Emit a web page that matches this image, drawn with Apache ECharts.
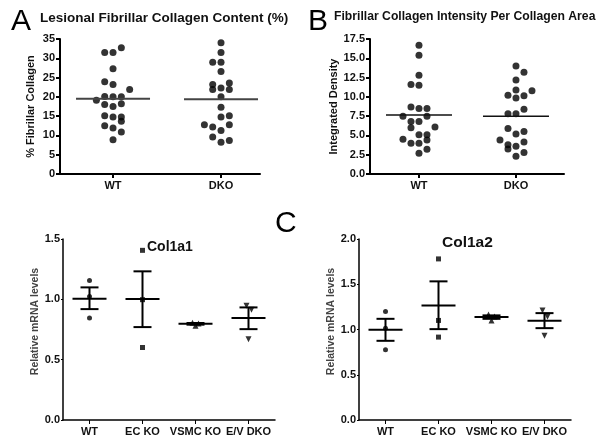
<!DOCTYPE html>
<html><head><meta charset="utf-8">
<script src="https://cdn.jsdelivr.net/npm/echarts@6/dist/echarts.min.js"></script>
<style>html,body{margin:0;background:#fff}#c{width:600px;height:444px}</style>
</head><body><div id="c"></div>
<script>
// --- A: lesional fibrillar collagen content (%) ---
const aGroups = ['WT', 'DKO'];
const aWT = [31.5, 31.5, 32.7, 27.3, 23.9, 23.2, 21.9, 19.1, 20.1, 20.0, 20.0, 18.0, 17.5, 18.2, 15.1, 14.8, 14.8, 13.7, 12.5, 11.9, 10.9, 8.9];
const aWTcol = [-1, 0, 1, 0, -1, 0, 2, -2, -1, 0, 1, -1, 0, 1, -1, 0, 1, 1, -1, 0, 1, 0];
const aDKO = [34.0, 31.5, 29.0, 29.0, 26.6, 23.2, 23.6, 21.9, 22.3, 21.9, 20.0, 17.3, 14.8, 15.1, 12.8, 12.2, 12.8, 11.3, 9.6, 8.2, 8.7];
const aDKOcol = [0, 0, -1, 0, 0, -1, 1, -1, 0, 1, 0, 0, 0, 1, -2, -1, 1, 0, -1, 0, 1];
const aMeans = [19.5, 19.4];

// --- B: intensity per collagen area ---
const bWT = [16.7, 15.4, 12.8, 11.6, 11.5, 8.7, 8.5, 8.5, 7.5, 7.5, 6.8, 6.8, 6.0, 6.1, 5.1, 5.1, 4.5, 4.0, 4.0, 4.4, 2.7, 3.2];
const bWTcol = [0, 0, 0, -1, 0, -1, 0, 1, -2, 1, -1, 0, -1, 2, 0, 1, -2, -1, 0, 1, 0, 1];
const bDKO = [14.0, 13.2, 12.2, 10.9, 10.8, 10.2, 9.85, 10.15, 8.4, 7.8, 7.8, 5.9, 5.5, 5.2, 4.4, 3.8, 4.15, 3.6, 3.25, 2.3, 2.8];
const bDKOcol = [0, 1, 0, 0, 2, -1, 0, 1, 1, -1, 0, -1, 1, 0, -2, -1, 1, 0, -1, 0, 1];
const bMeans = [7.65, 7.5];

// --- C: relative mRNA levels ---
const cGroups = ['WT', 'EC KO', 'VSMC KO', 'E/V DKO'];
const col1a1Pts = [[1.157, 1.024, 0.845], [1.406, 0.997, 0.601], [0.805, 0.800, 0.782], [0.947, 0.914, 0.670]];
const col1a1Mean = [1.005, 1.002, 0.797, 0.845];
const col1a1Lo = [0.919, 0.770, 0.790, 0.753];
const col1a1Hi = [1.099, 1.232, 0.804, 0.933];
const col1a2Pts = [[1.199, 1.015, 0.775], [1.78, 1.10, 0.916], [1.165, 1.145, 1.10], [1.21, 1.14, 0.93]];
const col1a2Mean = [0.997, 1.266, 1.137, 1.096];
const col1a2Lo = [0.875, 1.004, 1.118, 1.015];
const col1a2Hi = [1.118, 1.532, 1.156, 1.181];
const ptShift = [[0, 0, 0], [0, 0, 0], [-3, 3, 0], [-2, 3, 0]];

const F = 'Liberation Sans, Arial, sans-serif';
const INK = '#111';

const topAxisY = (max, itv, name, gap, fmt) => ({
  type: 'value', min: 0, max, interval: itv,
  name, nameLocation: 'middle', nameGap: gap,
  nameTextStyle: { fontFamily: F, fontWeight: 'bold', fontSize: 11, color: INK },
  axisLine: { show: true, lineStyle: { color: '#000', width: 2 } },
  axisTick: { show: true, length: 4, lineStyle: { color: '#000', width: 2 } },
  axisLabel: { fontFamily: F, fontWeight: 'bold', fontSize: 11, color: INK, margin: 5, formatter: fmt },
  splitLine: { show: false },
});
const topAxisX = (min, max) => ({
  type: 'value', min, max,
  axisLine: { show: true, onZero: false, lineStyle: { color: '#000', width: 2 } },
  axisTick: { show: true, length: 4, customValues: [1, 2], lineStyle: { color: '#000', width: 2 } },
  axisLabel: { customValues: [1, 2], fontFamily: F, fontWeight: 'bold', fontSize: 11, color: INK, margin: 6,
    formatter: (v) => aGroups[Math.round(v) - 1] || '' },
  splitLine: { show: false },
});
const botAxisY = (max, gap) => ({
  type: 'value', min: 0, max, interval: 0.5,
  name: 'Relative mRNA levels', nameLocation: 'middle', nameGap: gap,
  nameTextStyle: { fontFamily: F, fontWeight: 'bold', fontSize: 10.5, color: '#444', padding: [0, 0, 0, 16] },
  axisLine: { show: true, lineStyle: { color: '#000', width: 1.5 } },
  axisTick: { show: true, length: 2, lineStyle: { color: '#000' } },
  axisLabel: { fontFamily: F, fontWeight: 'bold', fontSize: 11, color: INK, margin: 3, formatter: (v) => v.toFixed(1) },
  splitLine: { show: false },
});
const botAxisX = () => ({
  type: 'category', data: cGroups,
  axisLine: { show: true, lineStyle: { color: '#000', width: 1.5 } },
  axisTick: { show: true, alignWithLabel: true, length: 4, lineStyle: { color: '#000' } },
  axisLabel: { fontFamily: F, fontWeight: 'bold', fontSize: 11, color: INK, margin: 6, interval: 0 },
});

const dots = (vals, cols, cat, dx, ax) => ({
  type: 'scatter', xAxisIndex: ax, yAxisIndex: ax, symbolSize: 7, itemStyle: { color: '#000' },
  data: vals.map((v, i) => [cat + cols[i] * dx, v]), z: 3,
});
const meanLine = (means, ax, half, color, lw) => ({
  type: 'custom', xAxisIndex: ax, yAxisIndex: ax, z: 4,
  data: means.map((m, i) => [i + 1, m]),
  renderItem: (p, api) => {
    const c = api.coord([api.value(0), api.value(1)]);
    return { type: 'line', shape: { x1: c[0] - half, y1: c[1], x2: c[0] + half, y2: c[1] }, style: { stroke: color, lineWidth: lw } };
  },
});
const errBars = (mean, lo, hi, ax) => ({
  type: 'custom', xAxisIndex: ax, yAxisIndex: ax, z: 4,
  data: mean.map((m, i) => [i, m, lo[i], hi[i]]),
  renderItem: (p, api) => {
    const m = api.coord([api.value(0), api.value(1)]);
    const l = api.coord([api.value(0), api.value(2)]);
    const h = api.coord([api.value(0), api.value(3)]);
    const st = { stroke: '#000', lineWidth: 2 };
    return { type: 'group', children: [
      { type: 'line', shape: { x1: m[0], y1: l[1], x2: m[0], y2: h[1] }, style: st },
      { type: 'line', shape: { x1: m[0] - 9, y1: l[1], x2: m[0] + 9, y2: l[1] }, style: st },
      { type: 'line', shape: { x1: m[0] - 9, y1: h[1], x2: m[0] + 9, y2: h[1] }, style: st },
      { type: 'line', shape: { x1: m[0] - 17, y1: m[1], x2: m[0] + 17, y2: m[1] }, style: st },
    ] };
  },
});
const SYM = [['circle', 5, 0], ['rect', 5, 0], ['triangle', 6, 0], ['triangle', 6, 180]];
const points = (pts, ax) => pts.map((grp, gi) => ({
  type: 'scatter', xAxisIndex: ax, yAxisIndex: ax, z: 5,
  symbol: SYM[gi][0], symbolSize: SYM[gi][1], symbolRotate: SYM[gi][2], itemStyle: { color: '#000' },
  data: grp.map((v, k) => ({ value: [gi, v], symbolOffset: [ptShift[gi][k], 0] })),
}));

const label = (text, left, top, size, weight) => ({
  text, left, top, padding: 0,
  textStyle: { fontFamily: F, fontWeight: weight, fontSize: size, color: weight === 'bold' ? INK : '#000' },
});

const chart = echarts.init(document.getElementById('c'));
chart.setOption({
  animation: false,
  title: [
    label('A', 11, 7, 30, 'normal'),
    label('Lesional Fibrillar Collagen Content (%)', 40, 11, 13.5, 'bold'),
    label('B', 308, 7, 30, 'normal'),
    label('Fibrillar Collagen Intensity Per Collagen Area', 334, 11, 12.2, 'bold'),
    label('C', 275, 209, 30, 'normal'),
    label('Col1a1', 147, 240, 14, 'bold'),
    label('Col1a2', 442, 235, 15.5, 'bold'),
  ],
  grid: [
    { left: 60, top: 39, width: 200, height: 135 },
    { left: 370, top: 39, width: 194, height: 135 },
    { left: 63, top: 239, width: 212, height: 181 },
    { left: 359, top: 239, width: 212, height: 181 },
  ],
  xAxis: [
    Object.assign(topAxisX(0.509, 2.361), { gridIndex: 0 }),
    Object.assign(topAxisX(0.495, 2.495), { gridIndex: 1 }),
    Object.assign(botAxisX(), { gridIndex: 2 }),
    Object.assign(botAxisX(), { gridIndex: 3 }),
  ],
  yAxis: [
    Object.assign(topAxisY(35, 5, '% Fibrillar Collagen', 24, (v) => String(v)), { gridIndex: 0 }),
    Object.assign(topAxisY(17.5, 2.5, 'Integrated Density', 26, (v) => v.toFixed(1)), { gridIndex: 1 }),
    Object.assign(botAxisY(1.5, 16), { gridIndex: 2 }),
    Object.assign(botAxisY(2.0, 17), { gridIndex: 3 }),
  ],
  series: [
    dots(aWT, aWTcol, 1, 0.077, 0),
    dots(aDKO, aDKOcol, 2, 0.077, 0),
    meanLine(aMeans, 0, 37, '#444', 2),
    dots(bWT, bWTcol, 1, 0.0825, 1),
    dots(bDKO, bDKOcol, 2, 0.0825, 1),
    meanLine(bMeans, 1, 33, '#111', 1.5),
    errBars(col1a1Mean, col1a1Lo, col1a1Hi, 2),
    ...points(col1a1Pts, 2),
    errBars(col1a2Mean, col1a2Lo, col1a2Hi, 3),
    ...points(col1a2Pts, 3),
  ],
});
</script>
</body></html>
